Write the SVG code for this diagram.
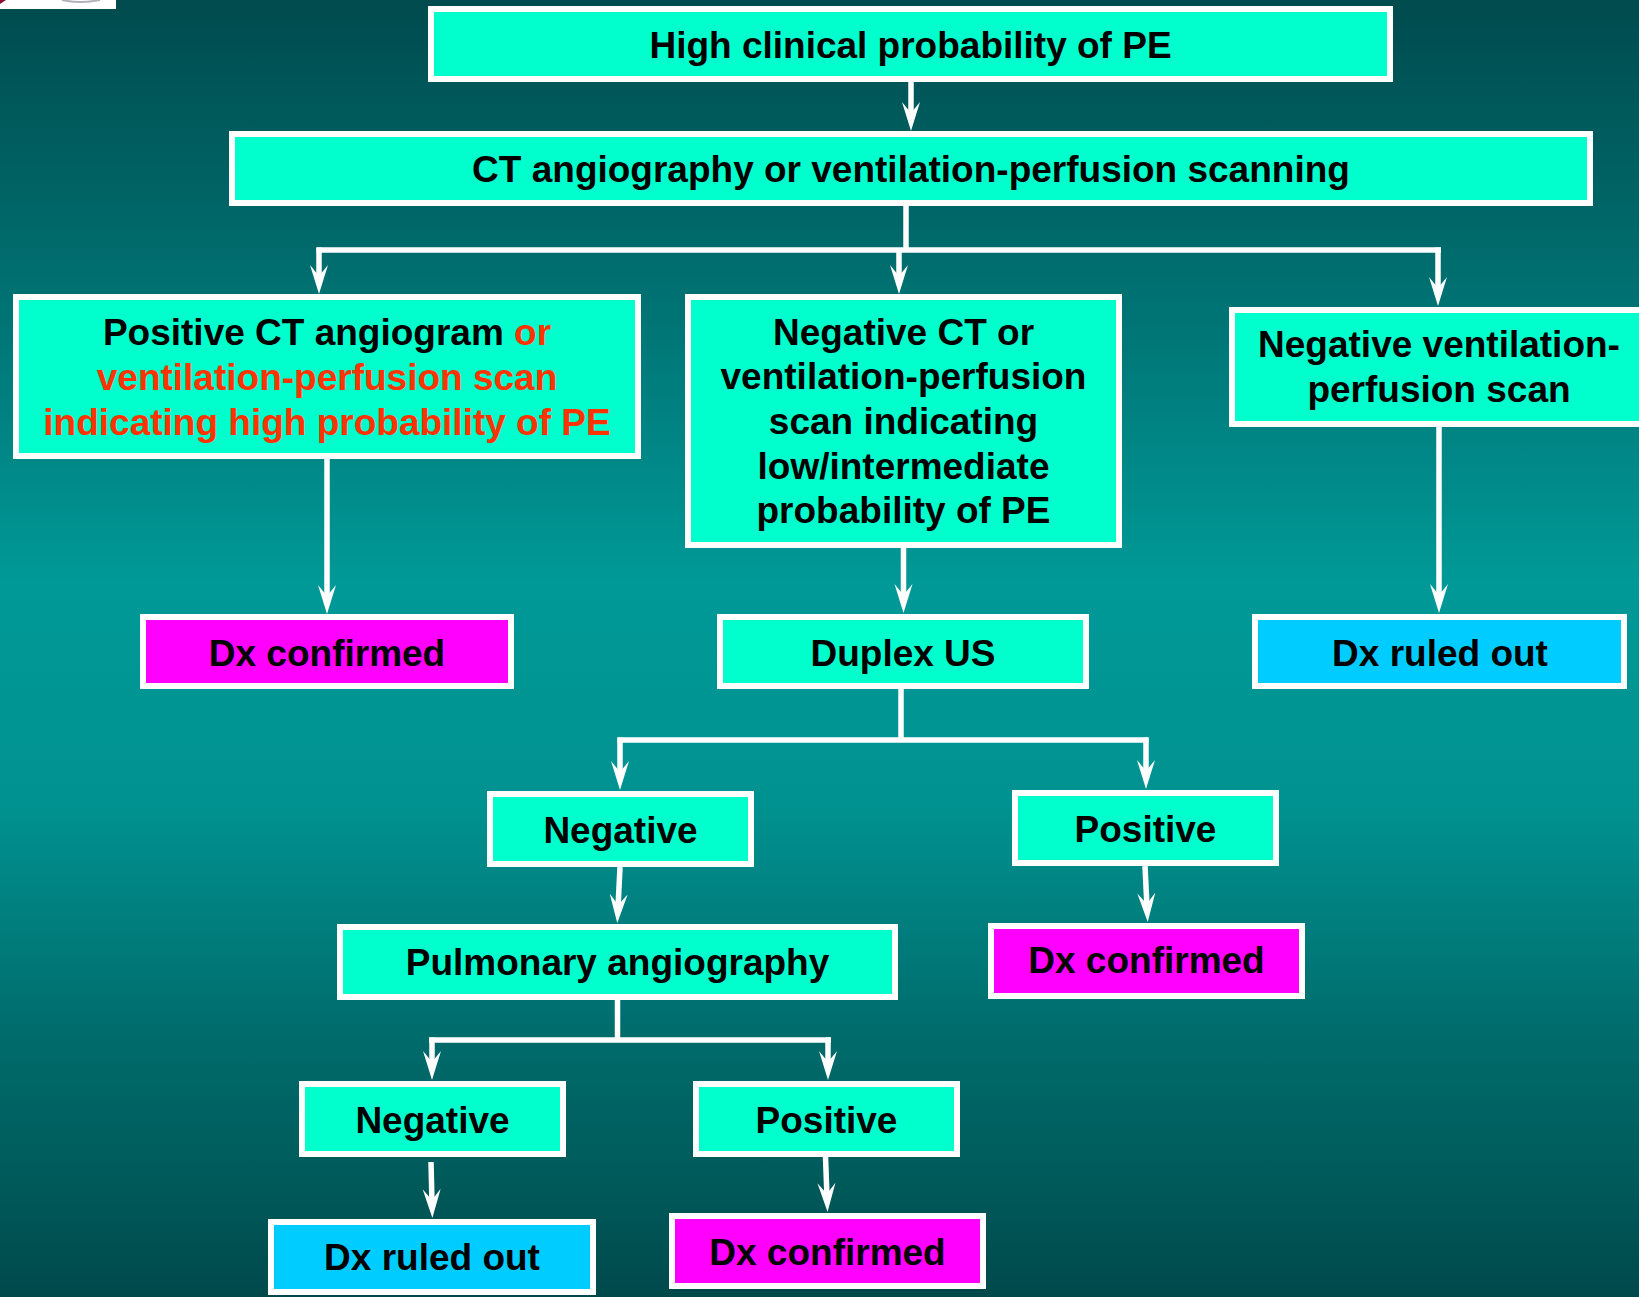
<svg xmlns="http://www.w3.org/2000/svg" width="1639" height="1297" viewBox="0 0 1639 1297">
  <defs>
    <linearGradient id="bg" x1="0" y1="0" x2="0" y2="1">
      <stop offset="0" stop-color="#004B4E"/>
      <stop offset="0.2" stop-color="#006C6D"/>
      <stop offset="0.45" stop-color="#009997"/>
      <stop offset="0.62" stop-color="#009290"/>
      <stop offset="0.8" stop-color="#006B6B"/>
      <stop offset="0.9" stop-color="#005C5C"/>
      <stop offset="1" stop-color="#00494B"/>
    </linearGradient>
    <marker id="ah" markerUnits="userSpaceOnUse" markerWidth="30" markerHeight="20" viewBox="0 0 30 20" refX="14" refY="10" orient="auto">
      <path d="M0,1 L29,10 L0,19 L11,10 Z" fill="#FFFFFF"/>
    </marker>
    <style>
      .box { stroke: #FFFFFF; stroke-width: 6; }
      .teal { fill: #00FFCC; }
      .mag { fill: #FF00FF; }
      .blue { fill: #00CCFF; }
      .lbl { font-family: "Liberation Sans", Arial, Helvetica, sans-serif; font-weight: bold; font-size: 37px; fill: #000000; text-anchor: middle; }
      .red { fill: #FF3300; }
      .ln { stroke: #FFFFFF; stroke-width: 5.5; fill: none; }
      .arr { stroke: #FFFFFF; stroke-width: 5.5; fill: none; marker-end: url(#ah); }
    </style>
  </defs>

  <rect x="0" y="0" width="1639" height="1297" fill="url(#bg)"/>

  <!-- cropped logo fragment at top-left -->
  <g id="logo-fragment">
    <rect x="0" y="0" width="116" height="9" fill="#FFFFFF"/>
    <path d="M0,0 L6,0 L0,4 Z" fill="#8A1030"/>
    <path d="M62,0 Q80,4 100,0" stroke="#B0B0B8" stroke-width="2" fill="none"/>
  </g>

  <g id="connectors">
    <path class="arr" d="M911,82 V116"/>
    <path class="ln" d="M906,206 V252" stroke-width="9"/>
    <path class="ln" d="M316.5,250 H1441"/>
    <path class="arr" d="M319,247.5 V279"/>
    <path class="arr" d="M899,250 V279"/>
    <path class="arr" d="M1438,247.5 V291"/>
    <path class="arr" d="M327,459 V599"/>
    <path class="arr" d="M903.5,548 V598"/>
    <path class="arr" d="M1439,427 V598"/>
    <path class="ln" d="M901,689 V742"/>
    <path class="ln" d="M617.5,740 H1148.5"/>
    <path class="arr" d="M620,737.5 V775"/>
    <path class="arr" d="M1146,737.5 V774"/>
    <path class="arr" d="M620,867 L618,908"/>
    <path class="arr" d="M1145,866 L1147,907"/>
    <path class="ln" d="M617.5,1000 V1042"/>
    <path class="ln" d="M429,1040 H831"/>
    <path class="arr" d="M432,1037.5 V1065"/>
    <path class="arr" d="M828,1037.5 V1065"/>
    <path class="arr" d="M431,1162 L432,1203"/>
    <path class="arr" d="M825.5,1157 L827,1197"/>
  </g>

  <g id="n-high">
    <rect class="box teal" x="431" y="9" width="959" height="70"/>
    <text class="lbl" x="910.5" y="58">High clinical probability of PE</text>
  </g>
  <g id="n-ct">
    <rect class="box teal" x="232" y="134" width="1358" height="69"/>
    <text class="lbl" x="911" y="182">CT angiography or ventilation-perfusion scanning</text>
  </g>
  <g id="n-posct">
    <rect class="box teal" x="16" y="297" width="622" height="159"/>
    <text class="lbl" x="327" y="345">Positive CT angiogram <tspan class="red">or</tspan></text>
    <text class="lbl red" x="327" y="390">ventilation-perfusion scan</text>
    <text class="lbl red" x="327" y="435">indicating high probability of PE</text>
  </g>
  <g id="n-negct">
    <rect class="box teal" x="688" y="297" width="431" height="248"/>
    <text class="lbl" x="903.5" y="345">Negative CT or</text>
    <text class="lbl" x="903.5" y="389">ventilation-perfusion</text>
    <text class="lbl" x="903.5" y="434">scan indicating</text>
    <text class="lbl" x="903.5" y="479">low/intermediate</text>
    <text class="lbl" x="903.5" y="523">probability of PE</text>
  </g>
  <g id="n-negvq">
    <rect class="box teal" x="1232" y="310" width="420" height="114"/>
    <text class="lbl" x="1439" y="357">Negative ventilation-</text>
    <text class="lbl" x="1439" y="402">perfusion scan</text>
  </g>
  <g id="n-dxconf1">
    <rect class="box mag" x="143" y="617" width="368" height="69"/>
    <text class="lbl" x="327" y="666">Dx confirmed</text>
  </g>
  <g id="n-duplex">
    <rect class="box teal" x="720" y="617" width="366" height="69"/>
    <text class="lbl" x="903" y="666">Duplex US</text>
  </g>
  <g id="n-dxout1">
    <rect class="box blue" x="1255" y="617" width="369" height="69"/>
    <text class="lbl" x="1440" y="666">Dx ruled out</text>
  </g>
  <g id="n-neg1">
    <rect class="box teal" x="490" y="794" width="261" height="70"/>
    <text class="lbl" x="620.5" y="843">Negative</text>
  </g>
  <g id="n-pos1">
    <rect class="box teal" x="1015" y="793" width="261" height="70"/>
    <text class="lbl" x="1145.5" y="842">Positive</text>
  </g>
  <g id="n-pulm">
    <rect class="box teal" x="340" y="927" width="555" height="70"/>
    <text class="lbl" x="617.5" y="975">Pulmonary angiography</text>
  </g>
  <g id="n-dxconf2">
    <rect class="box mag" x="991" y="926" width="311" height="70"/>
    <text class="lbl" x="1146.5" y="973">Dx confirmed</text>
  </g>
  <g id="n-neg2">
    <rect class="box teal" x="302" y="1084" width="261" height="70"/>
    <text class="lbl" x="432.5" y="1133">Negative</text>
  </g>
  <g id="n-pos2">
    <rect class="box teal" x="696" y="1084" width="261" height="70"/>
    <text class="lbl" x="826.5" y="1133">Positive</text>
  </g>
  <g id="n-dxout2">
    <rect class="box blue" x="271" y="1222" width="322" height="70"/>
    <text class="lbl" x="432" y="1270">Dx ruled out</text>
  </g>
  <g id="n-dxconf3">
    <rect class="box mag" x="672" y="1216" width="311" height="70"/>
    <text class="lbl" x="827.5" y="1265">Dx confirmed</text>
  </g>
</svg>
